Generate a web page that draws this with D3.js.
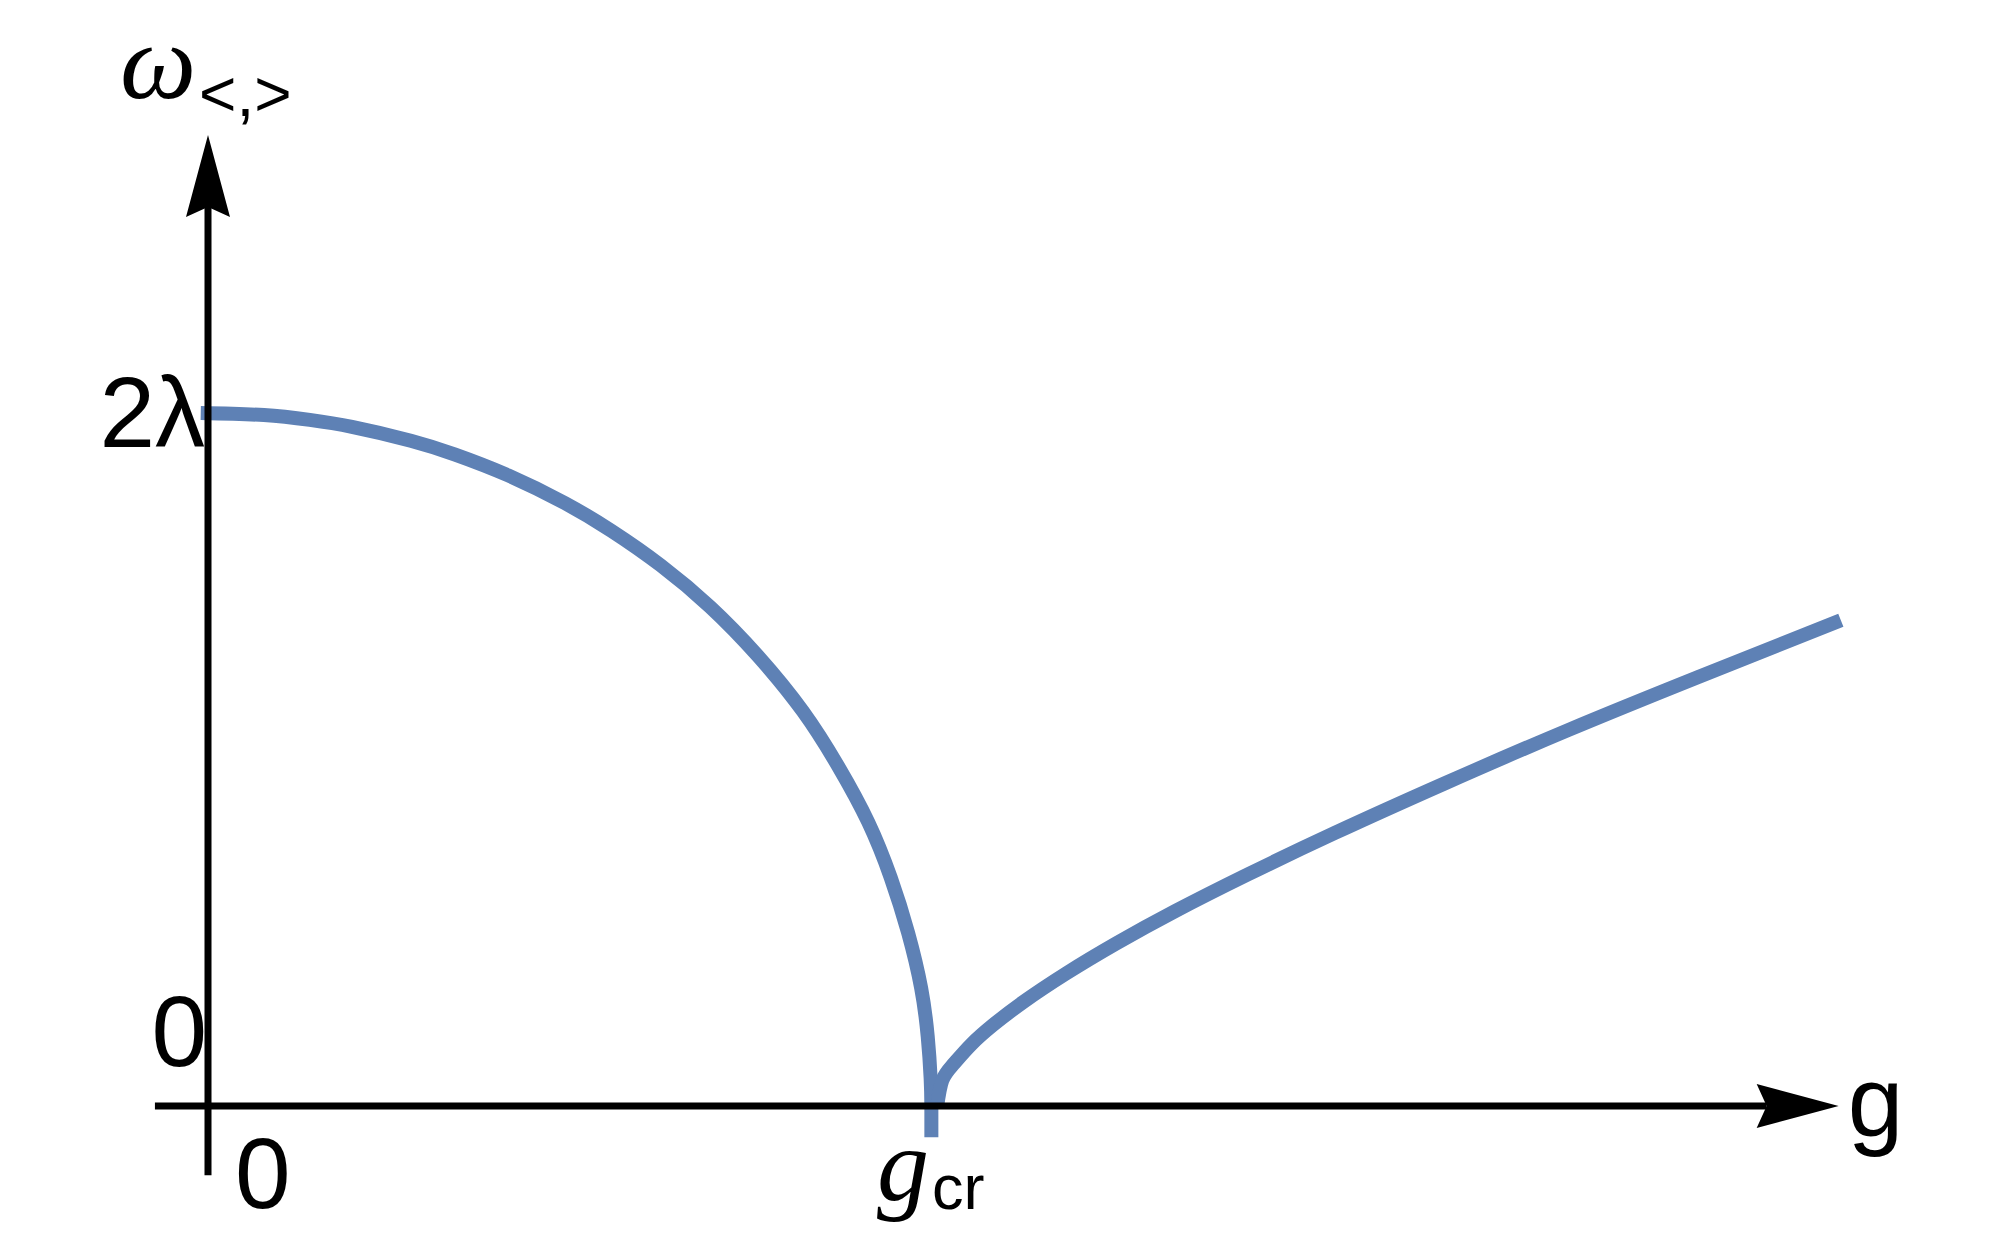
<!DOCTYPE html>
<html>
<head>
<meta charset="utf-8">
<script src="https://cdn.jsdelivr.net/npm/d3@7"></script>
<style>
  body { margin: 0; background: #fff; }
  svg { display: block; }
</style>
</head>
<body>
<div id="chart"></div>
<script>
// g in units of g_cr, omega in units of 2*lambda
const lowerG     = [-0.01, 0.077, 0.140, 0.198, 0.279, 0.340, 0.413, 0.491, 0.555, 0.623, 0.691, 0.756, 0.818, 0.867, 0.908, 0.939, 0.963, 0.981, 0.990, 0.994, 0.995, 0.995];
const lowerOmega = [1.000, 0.997, 0.990, 0.980, 0.960, 0.940, 0.910, 0.870, 0.830, 0.780, 0.720, 0.650, 0.570, 0.490, 0.410, 0.330, 0.250, 0.170, 0.100, 0.040, 0.000, -0.045];

const upperG     = [1.003, 1.010, 1.025, 1.05, 1.08, 1.12, 1.18, 1.25, 1.33, 1.43, 1.55, 1.70, 1.87, 2.05, 2.246];
const upperOmega = [0.000, 0.037, 0.060, 0.089, 0.117, 0.149, 0.191, 0.235, 0.281, 0.334, 0.394, 0.465, 0.542, 0.619, 0.701];

const xTickLabels = ["0", "g_cr"];
const yTickLabels = ["0", "2λ"];

const width = 2000, height = 1236;
const curveColor = "#5e81b5";

const svg = d3.select("#chart").append("svg")
    .attr("width", width)
    .attr("height", height);

const x = d3.scaleLinear().domain([0, 1]).range([208, 935]);
const y = d3.scaleLinear().domain([0, 1]).range([1106, 413]);

// axis extents in data units
const xAxisFrom = -0.073, xAxisTo = 2.243;
const yAxisFrom = -0.1, yAxisTo = 1.401;

// arrowhead: tip at origin, pointing along +x
const arrowPath = "M0,0 L-82,-22 L-72,0 L-82,22 Z";

// curves
const line = d3.line()
    .x(d => x(d[0]))
    .y(d => y(d[1]))
    .curve(d3.curveNatural);

svg.append("path")
    .attr("d", line(d3.zip(lowerG, lowerOmega)))
    .attr("fill", "none")
    .attr("stroke", curveColor)
    .attr("stroke-width", 14);

svg.append("path")
    .attr("d", line(d3.zip(upperG, upperOmega)))
    .attr("fill", "none")
    .attr("stroke", curveColor)
    .attr("stroke-width", 14);

// axes
const axes = svg.append("g");

axes.append("line")
    .attr("x1", x(xAxisFrom)).attr("x2", x(xAxisTo) - 72)
    .attr("y1", y(0)).attr("y2", y(0))
    .attr("stroke", "#000").attr("stroke-width", 7);

axes.append("path")
    .attr("d", arrowPath)
    .attr("transform", `translate(${x(xAxisTo)},${y(0)})`)
    .attr("fill", "#000");

axes.append("line")
    .attr("x1", x(0)).attr("x2", x(0))
    .attr("y1", y(yAxisFrom)).attr("y2", y(yAxisTo) + 72)
    .attr("stroke", "#000").attr("stroke-width", 7);

axes.append("path")
    .attr("d", arrowPath)
    .attr("transform", `translate(${x(0)},${y(yAxisTo)}) rotate(-90)`)
    .attr("fill", "#000");

// labels
const sans = "'Liberation Sans', Arial, Helvetica, sans-serif";
const serif = "'Liberation Serif', 'Times New Roman', serif";

// y tick labels
svg.append("text")
    .attr("x", x(0) - 1).attr("y", y(0) - 40)
    .attr("text-anchor", "end")
    .attr("font-family", sans).attr("font-size", 100)
    .text(yTickLabels[0]);

svg.append("text")
    .attr("x", x(0) - 3).attr("y", y(1) + 34)
    .attr("text-anchor", "end")
    .attr("font-family", sans).attr("font-size", 100)
    .text(yTickLabels[1]);

// x tick labels
svg.append("text")
    .attr("x", x(0) + 27).attr("y", y(0) + 102)
    .attr("font-family", sans).attr("font-size", 100)
    .text(xTickLabels[0]);

const gcr = svg.append("text")
    .attr("x", x(1) - 58).attr("y", y(0) + 94)
    .attr("font-family", serif).attr("font-size", 104);
gcr.append("tspan")
    .attr("font-style", "italic")
    .text(xTickLabels[1].split("_")[0]);
gcr.append("tspan")
    .attr("font-family", sans).attr("font-size", 63)
    .attr("dx", 3).attr("dy", 9)
    .text(xTickLabels[1].split("_")[1]);

// axis titles
svg.append("text")
    .attr("x", x(xAxisTo) + 9).attr("y", y(0) + 30)
    .attr("font-family", sans).attr("font-size", 100)
    .text("g");

svg.append("text")
    .attr("x", 120).attr("y", 98)
    .attr("font-family", serif).attr("font-style", "italic").attr("font-size", 108)
    .text("ω");

svg.append("text")
    .attr("x", 199).attr("y", 116)
    .attr("font-family", sans).attr("font-size", 64)
    .text("<,>");
</script>
</body>
</html>
